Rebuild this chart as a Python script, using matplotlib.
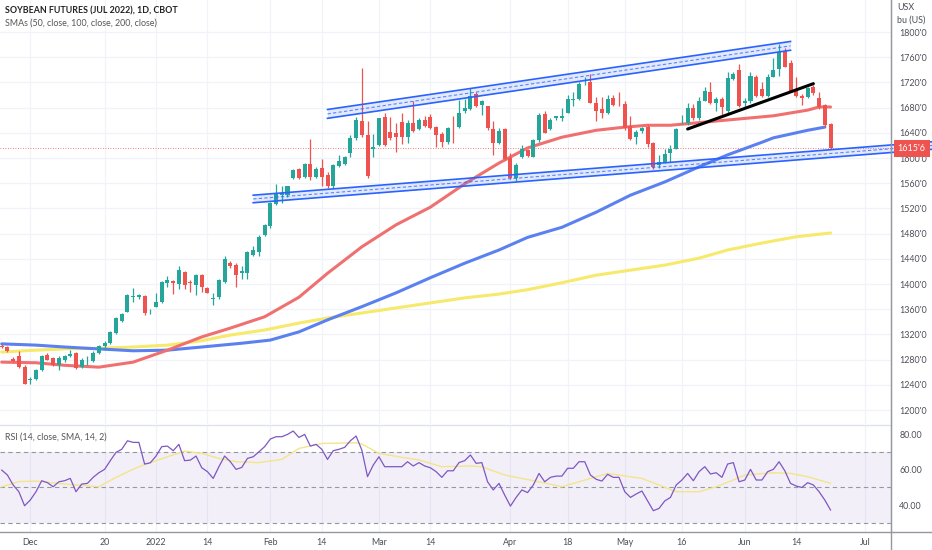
import numpy as np
import matplotlib.pyplot as plt
from matplotlib.ticker import FuncFormatter
from matplotlib.lines import Line2D
import matplotlib.transforms as mtransforms

plt.rcParams['font.family'] = ['Lato', 'DejaVu Sans']

# daily candles, bar 1 .. 146 (late Nov 2021 .. Jun 2022), prices in cents/bu
opens = [1302, 1300, 1281, 1285, 1269, 1247, 1250, 1264, 1287, 1282,
         1272, 1279, 1285, 1290, 1268, 1282, 1278, 1290, 1301, 1306,
         1323, 1342, 1356, 1379, 1379, 1381, 1355, 1364, 1371, 1401,
         1405, 1400, 1419, 1403, 1399, 1414, 1394, 1376, 1379, 1403,
         1434, 1430, 1417, 1417, 1446, 1451, 1478, 1492, 1527, 1541,
         1541, 1568, 1583, 1570, 1591, 1570, 1584, 1573, 1555, 1587,
         1590, 1608, 1631, 1659, 1637, 1615, 1621, 1665, 1642, 1640,
         1657, 1634, 1656, 1646, 1661, 1665, 1650, 1638, 1626, 1648,
         1650, 1674, 1677, 1702, 1684, 1682, 1646, 1624, 1646, 1600,
         1568, 1602, 1613, 1602, 1628, 1670, 1646, 1663, 1664, 1672,
         1692, 1693, 1720, 1720, 1688, 1677, 1672, 1695, 1686, 1686,
         1651, 1633, 1643, 1650, 1624, 1589, 1593, 1608, 1615, 1658,
         1655, 1679, 1663, 1691, 1705, 1688, 1693, 1674, 1725, 1739,
         1687, 1690, 1729, 1709, 1699, 1729, 1741, 1770, 1751, 1707,
         1699, 1697, 1712, 1695, 1684, 1654]
highs = [1305, 1302, 1284, 1293, 1272, 1253, 1265, 1287, 1291, 1284,
         1285, 1287, 1296, 1292, 1282, 1285, 1293, 1303, 1309, 1326,
         1347, 1354, 1384, 1393, 1384, 1383, 1361, 1385, 1404, 1412,
         1406, 1429, 1421, 1407, 1416, 1416, 1396, 1385, 1408, 1445,
         1436, 1433, 1428, 1453, 1461, 1478, 1496, 1530, 1559, 1555,
         1556, 1583, 1584, 1592, 1630, 1585, 1598, 1577, 1591, 1605,
         1603, 1637, 1665, 1743, 1658, 1638, 1664, 1671, 1665, 1656,
         1671, 1660, 1691, 1664, 1666, 1670, 1651, 1642, 1650, 1666,
         1692, 1693, 1711, 1705, 1692, 1683, 1658, 1647, 1647, 1608,
         1592, 1621, 1615, 1630, 1671, 1674, 1663, 1667, 1679, 1700,
         1705, 1721, 1729, 1733, 1697, 1697, 1700, 1700, 1705, 1690,
         1666, 1645, 1650, 1652, 1626, 1605, 1615, 1621, 1648, 1668,
         1687, 1686, 1697, 1712, 1720, 1697, 1697, 1737, 1737, 1749,
         1695, 1736, 1732, 1721, 1734, 1758, 1781, 1774, 1756, 1728,
         1702, 1713, 1716, 1705, 1686, 1655]
lows = [1298, 1292, 1277, 1267, 1241, 1241, 1247, 1262, 1279, 1270,
        1264, 1277, 1284, 1265, 1266, 1272, 1277, 1289, 1295, 1304,
        1321, 1340, 1355, 1372, 1377, 1351, 1353, 1363, 1370, 1396,
        1384, 1392, 1392, 1388, 1383, 1388, 1385, 1367, 1377, 1401,
        1425, 1396, 1408, 1408, 1445, 1445, 1476, 1489, 1526, 1528,
        1538, 1566, 1567, 1569, 1565, 1568, 1555, 1552, 1552, 1586,
        1589, 1602, 1629, 1634, 1569, 1601, 1619, 1619, 1629, 1609,
        1623, 1624, 1642, 1644, 1650, 1646, 1617, 1617, 1623, 1624,
        1647, 1671, 1676, 1681, 1668, 1645, 1605, 1623, 1597, 1566,
        1564, 1600, 1601, 1601, 1626, 1639, 1645, 1660, 1658, 1671,
        1682, 1692, 1716, 1687, 1658, 1663, 1670, 1683, 1682, 1645,
        1629, 1623, 1640, 1617, 1582, 1584, 1592, 1594, 1614, 1654,
        1652, 1660, 1661, 1690, 1686, 1674, 1668, 1672, 1724, 1681,
        1681, 1688, 1697, 1697, 1697, 1728, 1730, 1744, 1705, 1697,
        1684, 1696, 1700, 1677, 1650, 1614]
closes = [1300, 1293, 1278, 1269, 1242, 1250, 1264, 1285, 1280, 1272,
          1282, 1286, 1289, 1266, 1280, 1283, 1291, 1301, 1306, 1324,
          1346, 1352, 1383, 1380, 1383, 1354, 1356, 1372, 1403, 1407,
          1401, 1423, 1399, 1402, 1414, 1395, 1386, 1378, 1406, 1439,
          1428, 1414, 1421, 1451, 1454, 1475, 1494, 1528, 1544, 1545,
          1555, 1581, 1569, 1591, 1570, 1582, 1570, 1555, 1589, 1595,
          1602, 1631, 1660, 1637, 1572, 1617, 1663, 1621, 1631, 1633,
          1633, 1656, 1643, 1660, 1651, 1647, 1637, 1626, 1647, 1647,
          1672, 1679, 1699, 1683, 1690, 1647, 1624, 1643, 1598, 1568,
          1589, 1614, 1603, 1628, 1668, 1640, 1660, 1666, 1666, 1693,
          1693, 1718, 1721, 1688, 1675, 1672, 1693, 1684, 1685, 1647,
          1630, 1642, 1647, 1623, 1586, 1593, 1606, 1614, 1646, 1658,
          1679, 1663, 1691, 1707, 1687, 1693, 1681, 1727, 1733, 1683,
          1691, 1730, 1699, 1699, 1729, 1740, 1769, 1745, 1707, 1699,
          1695, 1711, 1703, 1681, 1652, 1615.75]

# moving averages read at sample bars
sma50_bars = [1, 7, 12, 18, 24, 30, 36, 41, 47, 53, 58, 64, 70, 76, 82, 88,
              93, 99, 105, 110, 114, 118, 124, 130, 136, 142, 144, 146]
sma50_vals = [1276, 1275, 1271, 1268, 1276, 1295, 1316, 1330, 1348, 1379,
              1417, 1459, 1494, 1522, 1559, 1592, 1616, 1633, 1644, 1649,
              1652, 1652, 1657, 1662, 1667, 1676, 1681, 1681]
sma100_bars = [1, 7, 12, 18, 24, 30, 36, 43, 48, 53, 58, 64, 70, 76, 82, 88,
               93, 99, 105, 111, 117, 123, 128, 134, 136, 142, 145]
sma100_vals = [1305, 1303, 1300, 1297, 1294, 1295, 1300, 1306, 1311, 1324,
               1343, 1364, 1386, 1410, 1433, 1454, 1474, 1490, 1514, 1541,
               1562, 1586, 1605, 1625, 1632, 1644, 1649]
sma200_bars = [1, 7, 12, 18, 24, 30, 36, 41, 47, 53, 58, 64, 70, 76, 82, 88,
               93, 99, 105, 111, 117, 123, 128, 134, 140, 146]
sma200_vals = [1292, 1295, 1297, 1298, 1300, 1303, 1310, 1319, 1327, 1338,
               1346, 1354, 1362, 1370, 1378, 1384, 1391, 1402, 1414, 1422,
               1430, 1441, 1454, 1465, 1475, 1481]

# RSI(14) per bar and its 14 SMA
rsi = [59.7, 56.9, 51.3, 47.5, 39.6, 42.8, 47.5, 53.7, 52.6, 50.3,
       53.1, 53.7, 55.0, 47.5, 51.8, 52.2, 55.6, 58.2, 60.1, 65.0,
       69.7, 71.4, 76.2, 75.3, 75.3, 63.1, 63.8, 67.6, 72.9, 73.2,
       70.6, 74.2, 65.0, 65.3, 67.6, 61.0, 58.8, 55.0, 61.6, 67.6,
       64.4, 60.1, 61.2, 66.3, 67.2, 70.0, 72.9, 77.2, 78.5, 78.5,
       79.8, 81.7, 78.1, 79.8, 73.2, 74.2, 71.4, 65.7, 70.6, 71.4,
       72.5, 76.2, 78.9, 71.0, 56.0, 62.5, 67.2, 61.6, 61.6, 61.6,
       61.6, 64.4, 62.0, 63.9, 62.0, 61.0, 58.8, 55.6, 59.3, 59.3,
       63.9, 65.0, 68.2, 63.5, 63.9, 53.1, 48.5, 52.2, 45.6, 39.4,
       44.3, 48.5, 47.0, 51.3, 57.8, 53.1, 55.6, 56.3, 56.3, 60.7,
       60.7, 64.4, 64.4, 56.9, 54.5, 53.5, 57.3, 55.6, 55.6, 47.5,
       44.3, 46.2, 47.9, 42.4, 36.8, 38.1, 42.3, 44.3, 51.3, 54.1,
       57.8, 53.7, 58.8, 61.6, 57.5, 58.2, 55.6, 63.1, 63.9, 53.1,
       54.1, 60.1, 54.1, 54.1, 58.8, 60.1, 64.4, 59.3, 52.2, 50.7,
       49.9, 52.6, 51.3, 47.5, 42.8, 37.2]
rsi_ma_bars = [1, 4, 7, 12, 18, 21, 25, 30, 33, 36, 39, 42, 46, 50, 53, 57,
               63, 64, 67, 71, 74, 78, 83, 85, 89, 95, 99, 104, 107, 113,
               119, 123, 126, 129, 131, 136, 139, 142, 146]
rsi_ma_vals = [50.3, 53.2, 53.5, 51.8, 50.3, 55.6, 61.6, 67.2, 70.4, 69.1,
               66.3, 64.4, 63.9, 65.7, 71.9, 74.7, 75.1, 74.4, 69.1, 66.9,
               65.4, 61.6, 62.0, 61.6, 56.9, 53.1, 50.3, 55.0, 57.8, 55.0,
               47.5, 47.5, 50.3, 54.1, 56.9, 58.2, 57.8, 56.0, 52.2]

# drawings: channels and trend line (bar, price)
upper_bars = [58, 139]
upper_top = [1677, 1785]
upper_bot = [1663, 1771]
lower_bars = [45, 164]
lower_top = [1541, 1626]
lower_bot = [1529, 1614]
trend_bars = [121, 143]
trend_vals = [1646, 1718]
last_price = 1615.75

date_bars = [6, 19, 28, 37, 48, 57, 67, 76, 90, 100, 110, 120, 131, 140, 152]
date_labels = ['Dec', '20', '2022', '14', 'Feb', '14', 'Mar', '14', 'Apr',
               '18', 'May', '16', 'Jun', '14', 'Jul']
price_ticks = list(range(1200, 1801, 40))
rsi_ticks = [40, 60, 80]

UP = '#26a69a'
DN = '#ef5350'
GRID = '#f0f3fa'
AXC = '#9598a1'
TXT = '#4c4f57'
FS = 6.4

W, H = 932, 550
fig = plt.figure(figsize=(W / 100, H / 100), dpi=100)
ax = fig.add_axes([0, 1 - 424 / H, 891 / W, 424 / H])
ax2 = fig.add_axes([0, 18 / H, 891 / W, 107 / H])

xmin, xmax = 0.703, 156.58
for a in (ax, ax2):
    a.set_xlim(xmin, xmax)
    for s in ('top', 'left', 'bottom'):
        a.spines[s].set_visible(False)
    a.spines['right'].set_color(AXC)
    a.yaxis.tick_right()
    a.tick_params(axis='y', length=0, pad=6, labelsize=FS, labelcolor=TXT)
    for b in date_bars:
        a.axvline(b, color=GRID, lw=0.9, zorder=0)

ax.set_ylim(1177.8, 1850.8)
ax.set_yticks(price_ticks)
ax.yaxis.set_major_formatter(FuncFormatter(lambda v, p: "%d'0" % v))
ax.set_xticks([])
for t in price_ticks:
    ax.axhline(t, color=GRID, lw=0.9, zorder=0)

# candles
bars = np.arange(1, len(opens) + 1)
o = np.array(opens, float)
c = np.array(closes, float)
colors = [UP if cc >= oo else DN for oo, cc in zip(o, c)]
ax.vlines(bars, lows, highs, colors=colors, lw=0.9, zorder=3)
body = np.maximum(np.abs(c - o), 1.2)
ax.bar(bars, body, bottom=np.minimum(o, c), width=0.7, color=colors, zorder=4)

# moving averages
ax.plot(sma200_bars, sma200_vals, color='#f7e96b', lw=2.2, zorder=2, solid_capstyle='round')
ax.plot(sma100_bars, sma100_vals, color='#5b80ef', lw=2.2, zorder=2, solid_capstyle='round')
ax.plot(sma50_bars, sma50_vals, color='#f07070', lw=2.2, zorder=2, solid_capstyle='round')

# last price line
ax.axhline(last_price, color=DN, lw=0.6, ls=(0, (1, 2)), zorder=1)

# channels
def channel(xs, top, bot, clip=True):
    mid = [(a + b) / 2 for a, b in zip(top, bot)]
    f = ax.fill_between(xs, bot, top, color='#2962ff', alpha=0.13, lw=0, zorder=5)
    f.set_clip_on(clip)
    for ys in (top, bot):
        ax.plot(xs, ys, color='#2962ff', lw=1.2, zorder=6, clip_on=clip)
    ax.plot(xs, mid, color='#2962ff', lw=0.8, ls=(0, (3, 2)), alpha=0.75,
            zorder=6, clip_on=clip)

channel(upper_bars, upper_top, upper_bot)
channel(lower_bars, lower_top, lower_bot, clip=False)

ax.plot(trend_bars, trend_vals, color='black', lw=2.2, zorder=7, solid_capstyle='round')

# last price tag
trans = mtransforms.blended_transform_factory(ax.transAxes, ax.transData)
ax.text(1.0075, last_price, "1615'6", transform=trans, ha='left', va='center',
        fontsize=FS, color='white', zorder=10, clip_on=False,
        bbox=dict(boxstyle='square,pad=0.45', fc=DN, ec='none'))

# RSI pane
ax2.set_ylim(24.8, 85.1)
ax2.axhspan(30, 70, color='#7e57c2', alpha=0.09, lw=0, zorder=0)
for lvl in (70, 50, 30):
    ax2.axhline(lvl, color='#9598a1', lw=0.8, ls=(0, (4, 3)), zorder=1)
ax2.plot(rsi_ma_bars, rsi_ma_vals, color='#f2e58a', lw=1.0, zorder=2)
ax2.plot(bars, rsi, color='#7e57c2', lw=0.9, zorder=3)
ax2.set_yticks(rsi_ticks)
ax2.yaxis.set_major_formatter(FuncFormatter(lambda v, p: '%.2f' % v))
ax2.set_xticks(date_bars)
ax2.set_xticklabels(date_labels)
ax2.tick_params(axis='x', length=0, pad=4, labelsize=FS, labelcolor=TXT)

# pane borders
fig.add_artist(Line2D([0, 891 / W], [1 - 424.5 / H] * 2, color='#e0e3eb', lw=1))
fig.add_artist(Line2D([0, 1], [18 / H] * 2, color=AXC, lw=1))
fig.add_artist(Line2D([891 / W] * 2, [0, 1], color=AXC, lw=1))

# header texts
fig.text(5 / W, 1 - 11 / H, 'SOYBEAN FUTURES (JUL 2022), 1D, CBOT', fontsize=FS,
         color='#222222', va='center', weight='bold')
fig.text(5 / W, 1 - 23 / H, 'SMAs (50, close, 100, close, 200, close)', fontsize=FS,
         color='#555555', va='center')
fig.text(5 / W, 1 - 437 / H, 'RSI (14, close, SMA, 14, 2)', fontsize=FS,
         color='#555555', va='center')
fig.text(897 / W, 1 - 8 / H, 'USX', fontsize=FS, color=TXT, va='center')
fig.text(897 / W, 1 - 20 / H, 'bu (US)', fontsize=FS, color=TXT, va='center')

fig.savefig('out.png', dpi=100)
